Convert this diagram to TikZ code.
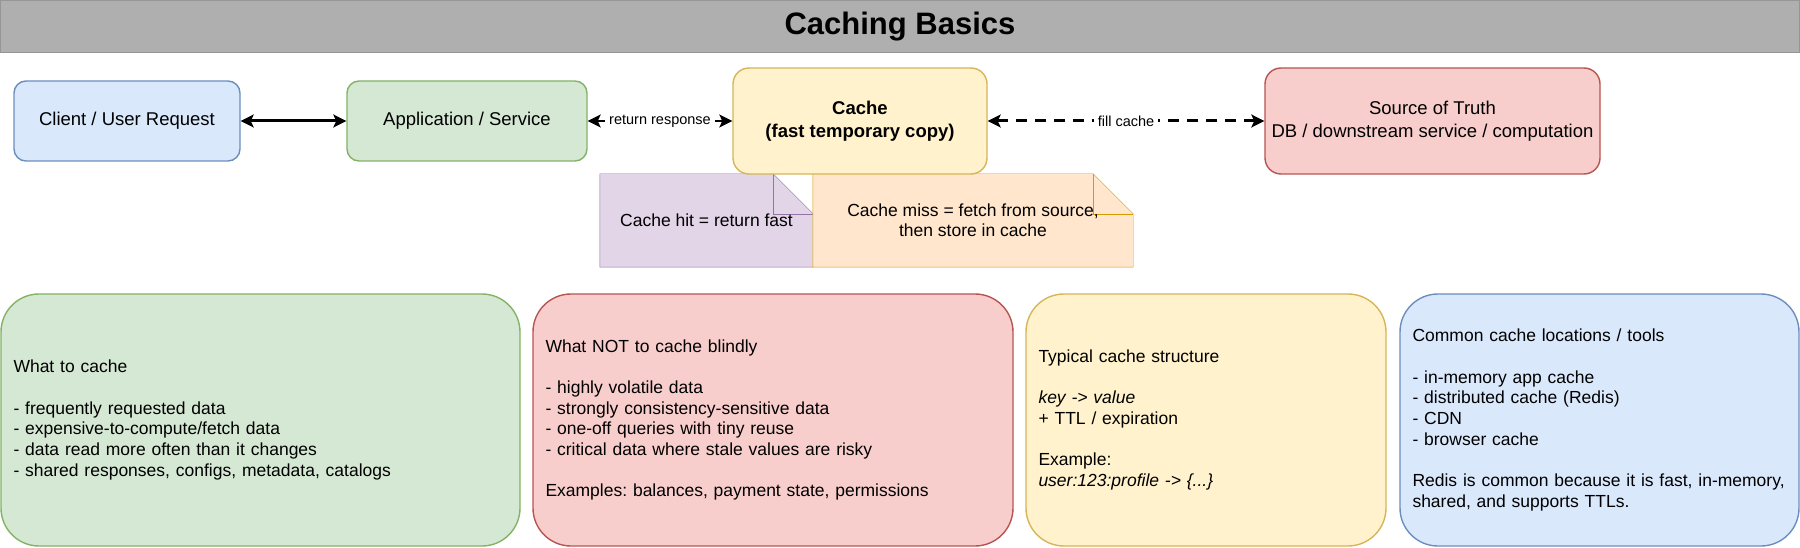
\documentclass[tikz,border=0pt]{standalone}
\usepackage{fontspec}
\setmainfont{Liberation Sans}
\usetikzlibrary{arrows.meta,backgrounds}
\definecolor{cbtitle}{RGB}{175,175,175}
\definecolor{cbtitleline}{RGB}{150,150,150}
\definecolor{cbblue}{HTML}{DAE8FC}
\definecolor{cbblueline}{HTML}{6C8EBF}
\definecolor{cbgreen}{HTML}{D5E8D4}
\definecolor{cbgreenline}{HTML}{82B366}
\definecolor{cbyellow}{HTML}{FFF2CC}
\definecolor{cbyellowline}{HTML}{D6B656}
\definecolor{cbred}{HTML}{F8CECC}
\definecolor{cbredline}{HTML}{B85450}
\definecolor{cbpurple}{HTML}{E1D5E7}
\definecolor{cbpurpleline}{HTML}{9673A6}
\definecolor{cborange}{HTML}{FFE6CC}
\definecolor{cborangeline}{HTML}{D79B00}
\frenchspacing

\begin{document}
\begin{tikzpicture}[x=1pt, y=-1pt, >={Stealth[length=13pt,width=13pt,inset=3pt]}]
  \tikzset{
    box/.style={draw, line width=1.4pt, rounded corners=12pt, align=center, inner sep=0pt,
      font=\fontsize{18.5}{22.5}\selectfont},
    infobox/.style={draw, line width=1.4pt, rounded corners=38pt, minimum height=252pt,
      align=left, inner xsep=12.5pt, inner ysep=0pt, font=\fontsize{17.5}{20.7}\selectfont},
    notetext/.style={align=center, inner sep=0pt, minimum height=93pt,
      font=\fontsize{17.5}{20}\selectfont},
    lbl/.style={fill=white, inner xsep=4pt, inner ysep=1pt, font=\fontsize{14.5}{16}\selectfont}
  }

  % canvas
  \begin{scope}[on background layer]
    \fill[white] (0,0) rectangle (1800,548);
  \end{scope}
  \useasboundingbox (0,0) rectangle (1800,548);

  % Title bar
  \node[draw=cbtitleline, fill=cbtitle, line width=1pt, minimum width=1799pt, minimum height=52pt,
    font=\fontsize{31}{36}\selectfont\bfseries] (title) at (900,27) {Caching Basics};

  % Request path
  \node[box, fill=cbblue, draw=cbblueline, minimum width=226pt, minimum height=80pt]
    (client) at (127,121) {Client / User Request};
  \node[box, fill=cbgreen, draw=cbgreenline, minimum width=240pt, minimum height=80pt]
    (app) at (467,121) {Application / Service};
  \node[box, fill=cbyellow, draw=cbyellowline, minimum width=254pt, minimum height=106pt,
    rounded corners=16pt] (cache) at (860,121) {\bfseries Cache\\\bfseries (fast temporary copy)};
  \node[box, fill=cbred, draw=cbredline, minimum width=335pt, minimum height=106pt,
    rounded corners=16pt] (truth) at (1432.5,121) {Source of Truth\\DB / downstream service / computation};

  \draw[<->, line width=3pt] (client) -- (app);
  \draw[<->, line width=2pt] (app) -- node[lbl] {return response} (cache);
  \draw[<->, line width=3pt, dash pattern=on 11pt off 8pt] (cache) -- node[lbl] {fill cache} (truth);

  % Hit / miss notes
  \node[notetext, minimum width=213pt] (hit) at (706.5,220.5) {Cache hit = return fast};
  \node[notetext, minimum width=320pt] (miss) at (973,220.5) {Cache miss = fetch from source,\\then store in cache};
  \begin{scope}[on background layer, line width=1.7pt]
    \draw[draw=cbpurpleline, fill=cbpurple] (hit.north west) -- ([xshift=-40pt]hit.north east)
      -- ([yshift=-40pt]hit.north east) -- (hit.south east) -- (hit.south west) -- cycle;
    \draw[draw=cbpurpleline] ([xshift=-40pt]hit.north east) |- ([yshift=-40pt]hit.north east);
    \draw[draw=cborangeline, fill=cborange] (miss.north west) -- ([xshift=-40pt]miss.north east)
      -- ([yshift=-40pt]miss.north east) -- (miss.south east) -- (miss.south west) -- cycle;
    \draw[draw=cborangeline] ([xshift=-40pt]miss.north east) |- ([yshift=-40pt]miss.north east);
  \end{scope}

  % Guidance boxes
  \node[infobox, fill=cbgreen, draw=cbgreenline, text width=494pt] (what) at (260.5,420) {%
    What to cache\\[\baselineskip]
    - frequently requested data\\
    - expensive-to-compute/fetch data\\
    - data read more often than it changes\\
    - shared responses, configs, metadata, catalogs};
  \node[infobox, fill=cbred, draw=cbredline, text width=455pt] (whatnot) at (773,420) {%
    What NOT to cache blindly\\[\baselineskip]
    - highly volatile data\\
    - strongly consistency-sensitive data\\
    - one-off queries with tiny reuse\\
    - critical data where stale values are risky\\[\baselineskip]
    Examples: balances, payment state, permissions};
  \node[infobox, fill=cbyellow, draw=cbyellowline, text width=335pt] (struct) at (1206,420) {%
    Typical cache structure\\[\baselineskip]
    \textit{key -> value}\\
    + TTL / expiration\\[\baselineskip]
    Example:\\
    \textit{user:123:profile -> \{...\}}};
  \node[infobox, fill=cbblue, draw=cbblueline, text width=374pt] (tools) at (1599.5,420) {%
    Common cache locations / tools\\[\baselineskip]
    - in-memory app cache\\
    - distributed cache (Redis)\\
    - CDN\\
    - browser cache\\[\baselineskip]
    Redis is common because it is fast, in-memory,\\
    shared, and supports TTLs.};
\end{tikzpicture}
\end{document}
